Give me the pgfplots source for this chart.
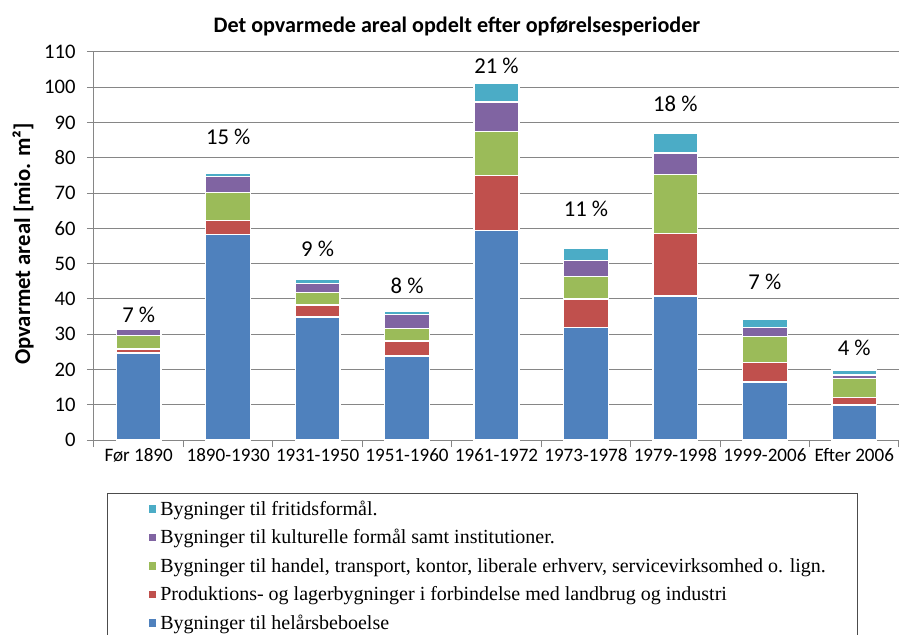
\documentclass[border=0pt]{standalone}
\usepackage{pgfplots}
\pgfplotsset{compat=1.18}
\usepackage{pgfplotstable}
\usepackage{fontspec}
\setmainfont{Carlito}
\newfontfamily\legfont{Liberation Serif}
\definecolor{cBlue}{HTML}{4F81BD}
\definecolor{cRed}{HTML}{C0504D}
\definecolor{cGreen}{HTML}{9BBB59}
\definecolor{cPurple}{HTML}{8064A2}
\definecolor{cCyan}{HTML}{4BACC6}
\definecolor{gridgray}{HTML}{868686}

\pgfplotstableread{
x blue red green purple cyan
0 24.7 1.1 3.8 1.9 0.2
1 58.2 4.0 8.0 4.5 0.8
2 34.9 3.4 3.5 2.5 1.2
3 23.8 4.3 3.6 3.8 1.1
4 59.4 15.6 12.5 8.3 5.4
5 31.8 8.2 6.4 4.4 3.6
6 40.8 17.8 16.6 6.2 5.6
7 16.4 5.6 7.4 2.4 2.4
8 9.9 2.1 5.4 1.0 1.4
}\datatable

\begin{document}
\begin{tikzpicture}
\begin{axis}[
  at={(0pt,0pt)}, anchor=south west,
  scale only axis,
  width=603.75pt, height=291pt,
  ymin=0, ymax=110, xmin=-0.5, xmax=8.5,
  ybar stacked, bar width=0.5,
  ytick={0,10,...,110},
  xtick={-0.5,0.5,...,8.5},
  xticklabels={},
  extra x ticks={0,1,2,3,4,5,6,7,8},
  extra x tick labels={Før 1890,1890-1930,1931-1950,1951-1960,1961-1972,1973-1978,1979-1998,1999-2006,Efter 2006},
  extra x tick style={major tick length=0pt, xticklabel style={yshift=-3pt, font=\fontsize{14.3}{16}\selectfont}},
  axis x line*=bottom, axis y line*=left,
  axis line style={draw=gridgray, line width=0.75pt},
  ymajorgrids, grid style={gridgray, line width=0.75pt},
  tick align=outside,
  major tick length=5.25pt,
  tick style={gridgray, line width=0.75pt},
  /pgf/number format/assume math mode=true,
  yticklabel style={xshift=-5pt, font=\fontsize{15.5}{18}\selectfont},
  reverse legend,
  legend style={draw=none, fill=none, at={(axis description cs:0.061,-0.142)}, anchor=north west,
    font=\fontsize{15}{17}\selectfont, row sep=4.9pt,
    cells={anchor=west, text height=11pt, text depth=4pt}},
  legend image code/.code={\fill[#1] (0pt,-3.4pt) rectangle (6.75pt,3.35pt);},
  clip=false,
]
\addplot[fill=cBlue, draw=white, line width=1pt] table[x=x,y=blue]{\datatable};
\addlegendentry{\legfont Bygninger til helårsbeboelse}
\addplot[fill=cRed, draw=white, line width=1pt] table[x=x,y=red]{\datatable};
\addlegendentry{\legfont Produktions- og lagerbygninger i forbindelse med landbrug og industri}
\addplot[fill=cGreen, draw=white, line width=1pt] table[x=x,y=green]{\datatable};
\addlegendentry{\legfont Bygninger til handel, transport, kontor, liberale erhverv, servicevirksomhed o. lign.}
\addplot[fill=cPurple, draw=white, line width=1pt] table[x=x,y=purple]{\datatable};
\addlegendentry{\legfont Bygninger til kulturelle formål samt institutioner.}
\addplot[fill=cCyan, draw=white, line width=1pt] table[x=x,y=cyan]{\datatable};
\addlegendentry{\legfont Bygninger til fritidsformål.}

\node[font=\fontsize{17}{20}\selectfont] at (axis cs:0,35.4) {7 \%};
\node[font=\fontsize{17}{20}\selectfont] at (axis cs:1,85.9) {15 \%};
\node[font=\fontsize{17}{20}\selectfont] at (axis cs:2,54.3) {9 \%};
\node[font=\fontsize{17}{20}\selectfont] at (axis cs:3,43.6) {8 \%};
\node[font=\fontsize{17}{20}\selectfont] at (axis cs:4,106.2) {21 \%};
\node[font=\fontsize{17}{20}\selectfont] at (axis cs:5,65.4) {11 \%};
\node[font=\fontsize{17}{20}\selectfont] at (axis cs:6,95.4) {18 \%};
\node[font=\fontsize{17}{20}\selectfont] at (axis cs:7,44.9) {7 \%};
\node[font=\fontsize{17}{20}\selectfont] at (axis cs:8,26.0) {4 \%};
\end{axis}
\node[font=\bfseries\fontsize{16.6}{19}\selectfont] at (272.25pt,310pt) {Det opvarmede areal opdelt efter opførelsesperioder};
\node[rotate=90, font=\bfseries\fontsize{17}{20}\selectfont] at (-53.25pt,147pt) {Opvarmet areal [mio. m²]};
\draw[black!70, line width=0.75pt] (9.75pt,-40.5pt) rectangle (572.25pt,-180pt);
\pgfresetboundingbox
\useasboundingbox (-70.5pt,-146.25pt) rectangle (603.75pt,330pt);
\end{tikzpicture}
\end{document}
